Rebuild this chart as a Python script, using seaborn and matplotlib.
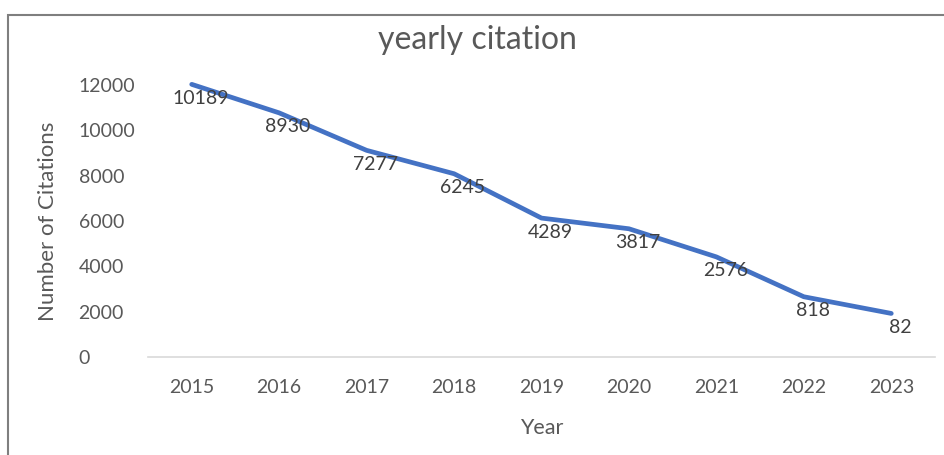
import matplotlib
matplotlib.use("Agg")
import matplotlib.pyplot as plt
from matplotlib.patches import Rectangle
from matplotlib.transforms import offset_copy
import seaborn as sns
import pandas as pd

# Citation counts per year
years = ["2015", "2016", "2017", "2018", "2019", "2020", "2021", "2022", "2023"]
citations = [10189, 8930, 7277, 6245, 4289, 3817, 2576, 818, 82]
# the series is stacked on a constant base series, which itself is not drawn
base_series = 1840
y_ticks = [0, 2000, 4000, 6000, 8000, 10000, 12000]

df = pd.DataFrame({"Year": years, "Citations": citations})
df["Stacked"] = df["Citations"] + base_series

sns.set_theme(style="white")
plt.rcParams["font.family"] = ["Lato", "DejaVu Sans"]

W, H = 945, 455
fig = plt.figure(figsize=(W / 100, H / 100), dpi=100)
ax = fig.add_axes([148 / W, (H - 357) / H, (935 - 148) / W, (357 - 85) / H])

text_grey = "#595959"
blue = "#4472C4"

sns.lineplot(data=df, x="Year", y="Stacked", ax=ax, color=blue,
             linewidth=3.4, sort=False, clip_on=False)

ax.set_xlim(-0.5, len(years) - 0.5)
ax.set_ylim(0, 12000)
ax.set_yticks(y_ticks)
ax.set_yticklabels([str(t) for t in y_ticks], ha="left")

for s in ["top", "right", "left"]:
    ax.spines[s].set_visible(False)
ax.spines["bottom"].set_color("#D9D9D9")
ax.spines["bottom"].set_linewidth(1.2)
ax.tick_params(axis="both", length=0, labelsize=14, colors=text_grey)
ax.tick_params(axis="x", pad=16)
ax.tick_params(axis="y", pad=50)

ax.set_xlabel("Year", fontsize=15.5, color=text_grey, labelpad=16)
ax.set_ylabel("Number of Citations", fontsize=16, color=text_grey, labelpad=15)

# value labels sit just below each point
lbl_tr = offset_copy(ax.transData, fig=fig, x=9, y=-14, units="dots")
for i, (yr, c, s) in enumerate(zip(years, citations, df["Stacked"])):
    ax.text(i, s, str(c), transform=lbl_tr, ha="center", va="center",
            fontsize=14, color="#404040", clip_on=False)

fig.text(477 / W, 1 - 40 / H, "yearly citation", ha="center", va="center",
         fontsize=23, color=text_grey)

# chart area border
fig.add_artist(Rectangle((8 / W, -0.05), 1.1, 1 - 15 / H + 0.05,
                         transform=fig.transFigure, fill=False,
                         edgecolor="#7F7F7F", linewidth=1.5))

fig.savefig("out.png", dpi=100)
